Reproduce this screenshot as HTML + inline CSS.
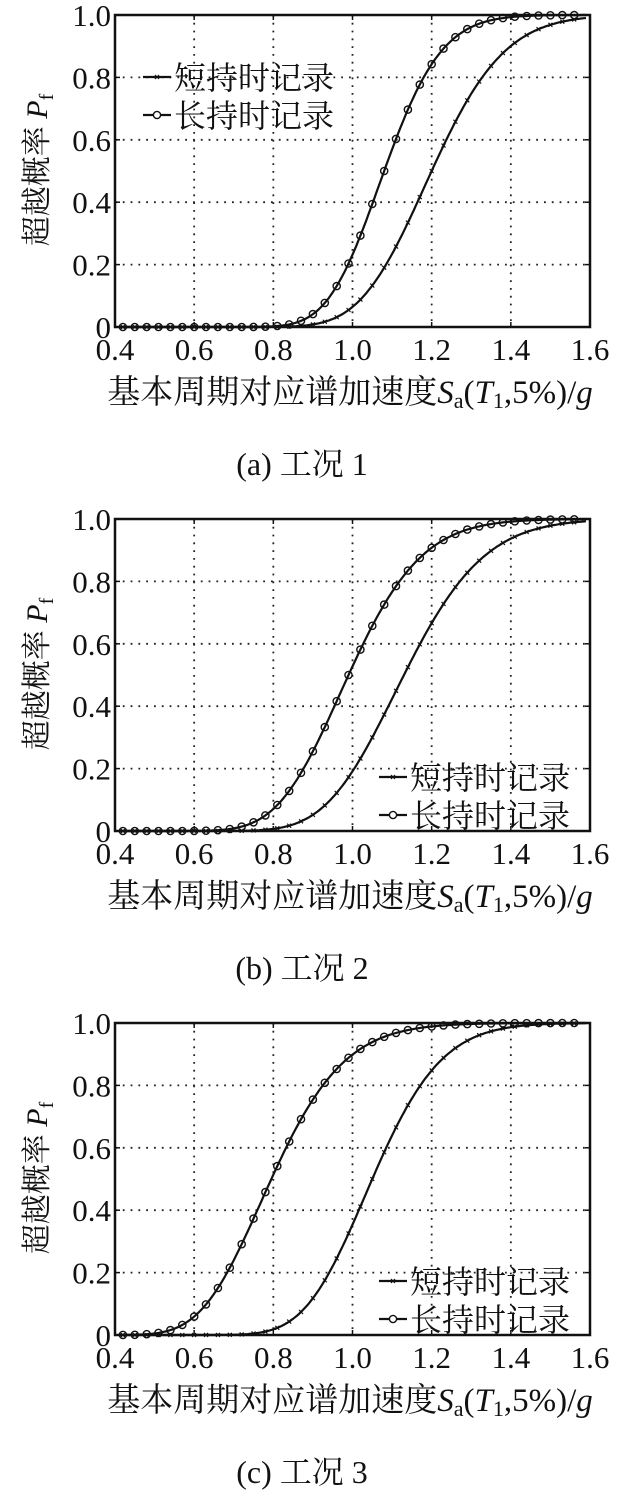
<!DOCTYPE html>
<html><head><meta charset="utf-8"><style>
html,body{margin:0;padding:0;background:#fff}
svg{display:block}
text{font-family:"Liberation Serif","Noto Serif CJK SC","Noto Sans CJK SC",serif;fill:#111}
</style></head><body>
<svg id="s" width="623" height="1500" viewBox="0 0 623 1500" xmlns="http://www.w3.org/2000/svg"></svg>
<script>
function erf(x){var s=x<0?-1:1;x=Math.abs(x);var t=1/(1+0.3275911*x);var y=1-(((((1.061405429*t-1.453152027)*t)+1.421413741)*t-0.284496736)*t+0.254829592)*t*Math.exp(-x*x);return s*y;}
function cdf(x,m,b){return 0.5*(1+erf(Math.log(x/m)/(b*Math.SQRT2)));}
var panels=[
 {top:15,cap:"(a)  工况 1",long:[1.08,0.105],short:[1.2,0.12],leg:"tl"},
 {top:519,cap:"(b)  工况 2",long:[0.99,0.145],short:[1.13,0.14],leg:"br"},
 {top:1023,cap:"(c)  工况 3",long:[0.795,0.18],short:[1.05,0.13],leg:"br"}];
var L=115,R=590,H=312,h='';
panels.forEach(function(p){
 var T=p.top,B=T+H;
 function X(v){return L+(v-0.4)/1.2*(R-L);}
 function Y(v){return B-v*H;}
 for(var i=1;i<6;i++){var x=X(0.4+0.2*i);h+='<line x1="'+x+'" y1="'+T+'" x2="'+x+'" y2="'+B+'" stroke="#222" stroke-width="1.8" stroke-dasharray="1.8,6"/>';}
 for(var j=1;j<5;j++){var y=Y(0.2*j);h+='<line x1="'+L+'" y1="'+y+'" x2="'+R+'" y2="'+y+'" stroke="#222" stroke-width="1.8" stroke-dasharray="1.8,6"/>';}
 for(var i=0;i<7;i++){var x=X(0.4+0.2*i);h+='<line x1="'+x+'" y1="'+B+'" x2="'+x+'" y2="'+(B-5)+'" stroke="#111" stroke-width="1.5"/><line x1="'+x+'" y1="'+T+'" x2="'+x+'" y2="'+(T+5)+'" stroke="#111" stroke-width="1.5"/>';
  h+='<text x="'+x+'" y="'+(B+33)+'" font-size="31" text-anchor="middle">'+(0.4+0.2*i).toFixed(1)+'</text>';}
 for(var j=0;j<6;j++){var y=Y(0.2*j);h+='<line x1="'+L+'" y1="'+y+'" x2="'+(L+5)+'" y2="'+y+'" stroke="#111" stroke-width="1.5"/><line x1="'+R+'" y1="'+y+'" x2="'+(R-5)+'" y2="'+y+'" stroke="#111" stroke-width="1.5"/>';
  h+='<text x="'+(L-4)+'" y="'+(y+11)+'" font-size="31" text-anchor="end">'+(j==0?'0':(0.2*j).toFixed(1))+'</text>';}
 [p.short,p.long].forEach(function(c,k){
  var d='';for(var v=0.41;v<=1.59;v+=0.005){d+=(d?'L':'M')+X(v).toFixed(1)+','+Y(cdf(v,c[0],c[1])).toFixed(1);}
  h+='<path d="'+d+'" fill="none" stroke="#111" stroke-width="2.2"/>';
  for(var v=0.42;v<=1.585;v+=0.03){var x=X(v),y=Y(cdf(v,c[0],c[1]));
   if(k==1)h+='<circle cx="'+x.toFixed(1)+'" cy="'+y.toFixed(1)+'" r="3.6" fill="none" stroke="#111" stroke-width="1.4"/>';
   else h+='<path d="M'+(x-2)+','+(y-2)+'l4,4M'+(x-2)+','+(y+2)+'l4,-4" stroke="#111" stroke-width="1.2"/>';}
 });
 h+='<rect x="'+L+'" y="'+T+'" width="'+(R-L)+'" height="'+H+'" fill="none" stroke="#111" stroke-width="2.5"/>';
 var lx,ly;
 if(p.leg=="tl"){lx=143;ly=T+62;}else{lx=379;ly=T+258;}
 [["短持时记录",0],["长持时记录",1]].forEach(function(e,k){var y=ly+k*38;
  h+='<line x1="'+lx+'" y1="'+y+'" x2="'+(lx+28)+'" y2="'+y+'" stroke="#111" stroke-width="2.2"/>';
  if(k)h+='<circle cx="'+(lx+14)+'" cy="'+y+'" r="3.6" fill="#fff" stroke="#111" stroke-width="1.4"/>';
  else h+='<path d="M'+(lx+12)+','+(y-2)+'l4,4M'+(lx+12)+','+(y+2)+'l4,-4" stroke="#111" stroke-width="1.2"/>';
  h+='<text x="'+(lx+31)+'" y="'+(y+12)+'" font-size="32">'+e[0]+'</text>';});
 var cy=T+155;
 h+='<text transform="translate(47,'+cy+') rotate(-90)" font-size="30" text-anchor="middle">超越概率 <tspan font-style="italic">P</tspan><tspan font-size="20" dy="6">f</tspan></text>';
 h+='<text x="350" y="'+(B+76)+'" font-size="33" text-anchor="middle">基本周期对应谱加速度<tspan font-style="italic">S</tspan><tspan font-size="22" dy="5">a</tspan><tspan dy="-5">(</tspan><tspan font-style="italic">T</tspan><tspan font-size="22" dy="5">1</tspan><tspan dy="-5">,5%)/</tspan><tspan font-style="italic">g</tspan></text>';
 h+='<text x="302" y="'+(B+148)+'" font-size="32" text-anchor="middle">'+p.cap+'</text>';
});
document.getElementById('s').innerHTML=h;
</script>
</body></html>
